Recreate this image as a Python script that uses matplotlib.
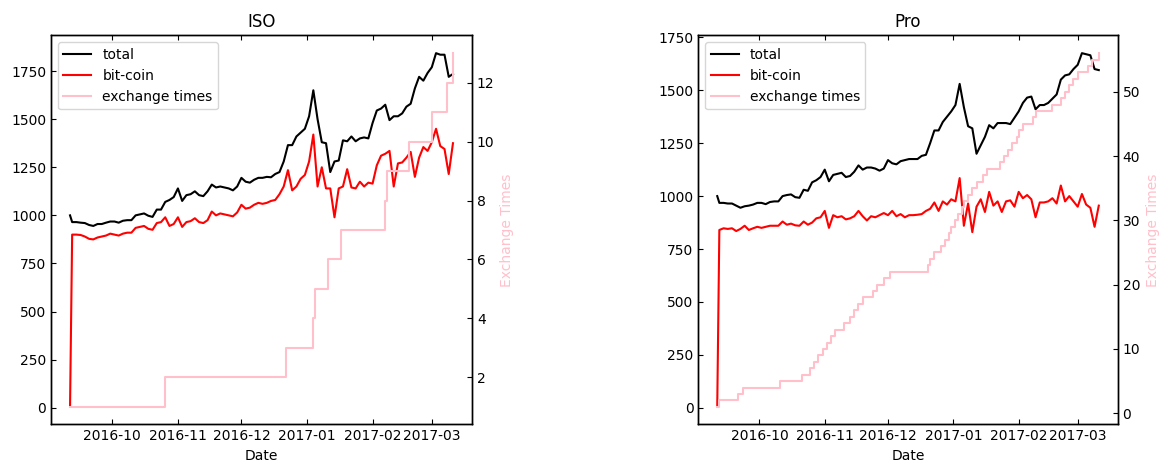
import matplotlib
matplotlib.use("Agg")
import matplotlib.pyplot as plt
import matplotlib.dates as mdates
import pandas as pd

# Sample dates: first day, then every second day, then the last day
dates = ([pd.Timestamp("2016-09-11")]
         + list(pd.date_range("2016-09-12", "2017-03-09", freq="2D"))
         + [pd.Timestamp("2017-03-11")])

iso_total = [1000, 965, 965, 962, 960, 950, 945, 955, 955, 962,
             968, 968, 962, 972, 975, 975, 1000, 1005, 1010, 998,
             992, 1030, 1030, 1070, 1080, 1095, 1140, 1075, 1105, 1110,
             1125, 1105, 1100, 1125, 1160, 1145, 1150, 1145, 1140, 1130,
             1150, 1195, 1175, 1170, 1185, 1195, 1195, 1200, 1198, 1215,
             1225, 1280, 1365, 1365, 1410, 1430, 1450, 1515, 1650, 1500,
             1380, 1375, 1225, 1280, 1285, 1390, 1385, 1410, 1385, 1400,
             1405, 1400, 1480, 1545, 1555, 1575, 1495, 1515, 1515, 1530,
             1565, 1580, 1660, 1720, 1700, 1740, 1770, 1843, 1835, 1835,
             1720, 1735]

iso_bitcoin = [5, 900, 900, 898, 890, 878, 875, 885, 890, 895,
               905, 900, 895, 905, 910, 910, 935, 940, 945, 930,
               925, 960, 965, 990, 945, 955, 990, 940, 965, 970,
               985, 965, 960, 975, 1020, 1000, 1010, 1005, 1000, 995,
               1015, 1055, 1035, 1040, 1055, 1065, 1060, 1065, 1075, 1080,
               1110, 1150, 1235, 1130, 1150, 1190, 1210, 1280, 1420, 1150,
               1250, 1140, 1140, 990, 1140, 1150, 1240, 1145, 1140, 1175,
               1150, 1170, 1165, 1260, 1310, 1320, 1335, 1150, 1270, 1275,
               1300, 1330, 1200, 1300, 1355, 1335, 1380, 1450, 1360, 1345,
               1215, 1375]

iso_exchange_dates = ["2016-09-11", "2016-10-26", "2016-12-22", "2017-01-04",
                      "2017-01-05", "2017-01-11", "2017-01-17", "2017-02-07",
                      "2017-02-08", "2017-02-18", "2017-03-01", "2017-03-08",
                      "2017-03-11"]
iso_exchange_times = [1, 2, 3, 4, 5, 6, 7, 8, 9, 10, 11, 12, 13]

pro_total = [1000, 968, 968, 965, 965, 955, 945, 952, 955, 960,
             968, 968, 962, 972, 975, 975, 1000, 1005, 1008, 995,
             992, 1030, 1025, 1065, 1075, 1090, 1125, 1070, 1100, 1105,
             1110, 1090, 1095, 1115, 1145, 1125, 1135, 1135, 1130, 1120,
             1130, 1170, 1155, 1150, 1165, 1170, 1175, 1175, 1175, 1190,
             1195, 1250, 1310, 1310, 1350, 1375, 1400, 1430, 1530, 1420,
             1330, 1320, 1200, 1240, 1280, 1335, 1320, 1345, 1345, 1345,
             1340, 1370, 1400, 1440, 1465, 1470, 1410, 1430, 1430, 1440,
             1460, 1480, 1550, 1570, 1575, 1600, 1620, 1675, 1670, 1665,
             1600, 1595]

pro_bitcoin = [5, 840, 848, 845, 848, 835, 845, 860, 840, 848,
               855, 850, 855, 860, 860, 860, 880, 865, 870, 862,
               860, 880, 865, 875, 895, 900, 930, 850, 910, 900,
               905, 890, 895, 905, 930, 905, 885, 905, 900, 910,
               920, 910, 930, 905, 915, 900, 910, 910, 912, 915,
               930, 940, 970, 930, 975, 960, 985, 975, 1085, 860,
               965, 830, 950, 985, 925, 1020, 955, 975, 925, 975,
               980, 950, 1020, 990, 1005, 985, 900, 970, 970, 975,
               990, 965, 1050, 975, 1000, 975, 950, 1010, 960, 945,
               855, 955]

pro_exchange_dates = ["2016-09-11", "2016-09-12", "2016-09-21", "2016-09-23",
                      "2016-10-11", "2016-10-21", "2016-10-25", "2016-10-27",
                      "2016-10-29", "2016-10-31", "2016-11-02", "2016-11-04",
                      "2016-11-06", "2016-11-10", "2016-11-13", "2016-11-15",
                      "2016-11-17", "2016-11-19", "2016-11-24", "2016-11-26",
                      "2016-11-29", "2016-12-02", "2016-12-20", "2016-12-21",
                      "2016-12-23", "2016-12-26", "2016-12-28", "2016-12-30",
                      "2016-12-31", "2017-01-02", "2017-01-03", "2017-01-05",
                      "2017-01-06", "2017-01-08", "2017-01-10", "2017-01-12",
                      "2017-01-15", "2017-01-17", "2017-01-23", "2017-01-25",
                      "2017-01-27", "2017-01-29", "2017-01-31", "2017-02-01",
                      "2017-02-03", "2017-02-08", "2017-02-09", "2017-02-17",
                      "2017-02-21", "2017-02-23", "2017-02-25", "2017-02-27",
                      "2017-03-01", "2017-03-06", "2017-03-08", "2017-03-11"]
pro_exchange_times = list(range(1, 57))

plt.rcParams.update({
    "font.family": ["DejaVu Sans"],
    "font.size": 10,
    "xtick.direction": "in",
    "ytick.direction": "in",
    "xtick.top": True,
    "axes.linewidth": 1.0,
})

fig = plt.figure(figsize=(11.63, 4.62), dpi=100)
positions = [[0.04385, 0.0812, 0.3620, 0.8420],
             [0.6004, 0.0812, 0.3607, 0.8420]]

panels = [
    ("ISO", iso_total, iso_bitcoin, iso_exchange_dates, iso_exchange_times),
    ("Pro", pro_total, pro_bitcoin, pro_exchange_dates, pro_exchange_times),
]

for pos, (title, total, bitcoin, ex_dates, ex_times) in zip(positions, panels):
    ax = fig.add_axes(pos)
    h1, = ax.plot(dates, total, color="black", lw=1.5, label="total")
    h2, = ax.plot(dates, bitcoin, color="red", lw=1.5, label="bit-coin")
    ax2 = ax.twinx()
    h3, = ax2.plot(pd.to_datetime(ex_dates), ex_times, color="pink", lw=1.5,
                   drawstyle="steps-post", label="exchange times")
    ax2.set_ylabel("Exchange Times", color="pink")
    ax.set_xlim(pd.Timestamp("2016-09-02"), pd.Timestamp("2017-03-20"))
    ax.xaxis.set_major_locator(mdates.MonthLocator())
    ax.xaxis.set_major_formatter(mdates.DateFormatter("%Y-%m"))
    ax.set_title(title, fontsize=12)
    ax.set_xlabel("Date")
    ax2.legend([h1, h2, h3], ["total", "bit-coin", "exchange times"],
               loc="upper left")

fig.savefig("out.png", dpi=100)
